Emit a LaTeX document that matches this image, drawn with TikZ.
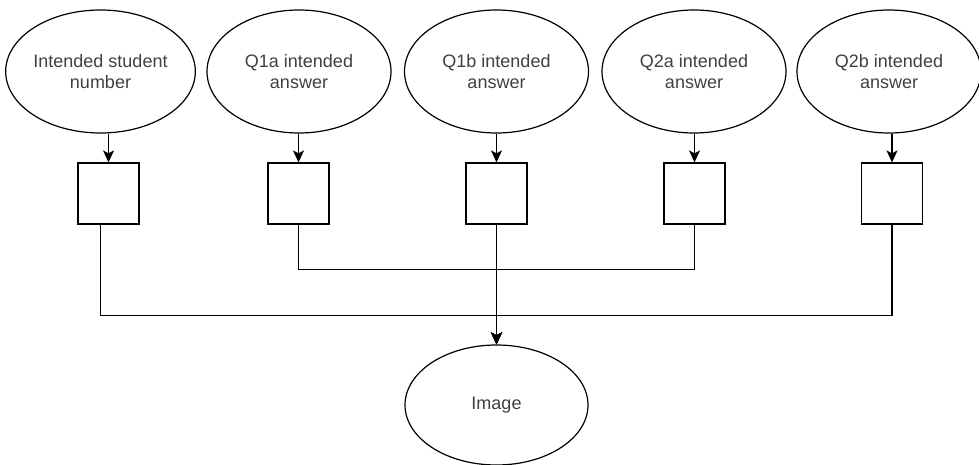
\documentclass[tikz,border=0pt]{standalone}
\usepackage{fontspec}
\setmainfont{Liberation Sans}
\usetikzlibrary{shapes.geometric,arrows.meta}
\definecolor{txt}{HTML}{404040}
\begin{document}
\begin{tikzpicture}[x=1pt,y=-1pt,
  oval/.style={draw=black,line width=1.2pt,ellipse,minimum width=184pt,minimum height=123pt,inner sep=0pt,
    align=center,text=txt,font=\fontsize{18}{21}\selectfont},
  sbox/.style={draw=black,line width=1.2pt,minimum width=61pt,minimum height=61pt,inner sep=0pt},
  arr/.style={line width=1.2pt,-{Stealth[length=12pt,width=11pt,inset=3pt]}}]
\useasboundingbox (0,0) rectangle (979,465);
\node[oval] (e1) at (100.5,71.5) {Intended student\\number};
\node[oval] (e2) at (299,71.5) {Q1a intended\\answer};
\node[oval] (e3) at (496.5,71.5) {Q1b intended\\answer};
\node[oval] (e4) at (694,71.5) {Q2a intended\\answer};
\node[oval] (e5) at (889,71.5) {Q2b intended\\answer};
\node[sbox] (b1) at (108.5,193.5) {};
\node[sbox] (b2) at (298.5,193.5) {};
\node[sbox] (b3) at (496.5,193.5) {};
\node[sbox] (b4) at (694.5,193.5) {};
\node[sbox] (b5) at (892,193.5) {};
\node[oval,minimum width=183pt,minimum height=120pt] (img) at (496.5,405) {Image};
\foreach \i in {1,...,5} {
  \draw[arr] (e\i.south -| b\i.north) -- (b\i.north);
}
\draw[arr] (b1.south -| e1.south) -- ++(0,91) -| (img.north);
\draw[arr] (b5.south) -- ++(0,91) -| (img.north);
\draw[arr] (b2.south) -- ++(0,44.5) -| (img.north);
\draw[arr] (b4.south) -- ++(0,44.5) -| (img.north);
\draw[arr] (b3.south) -- (img.north);
\end{tikzpicture}
\end{document}
